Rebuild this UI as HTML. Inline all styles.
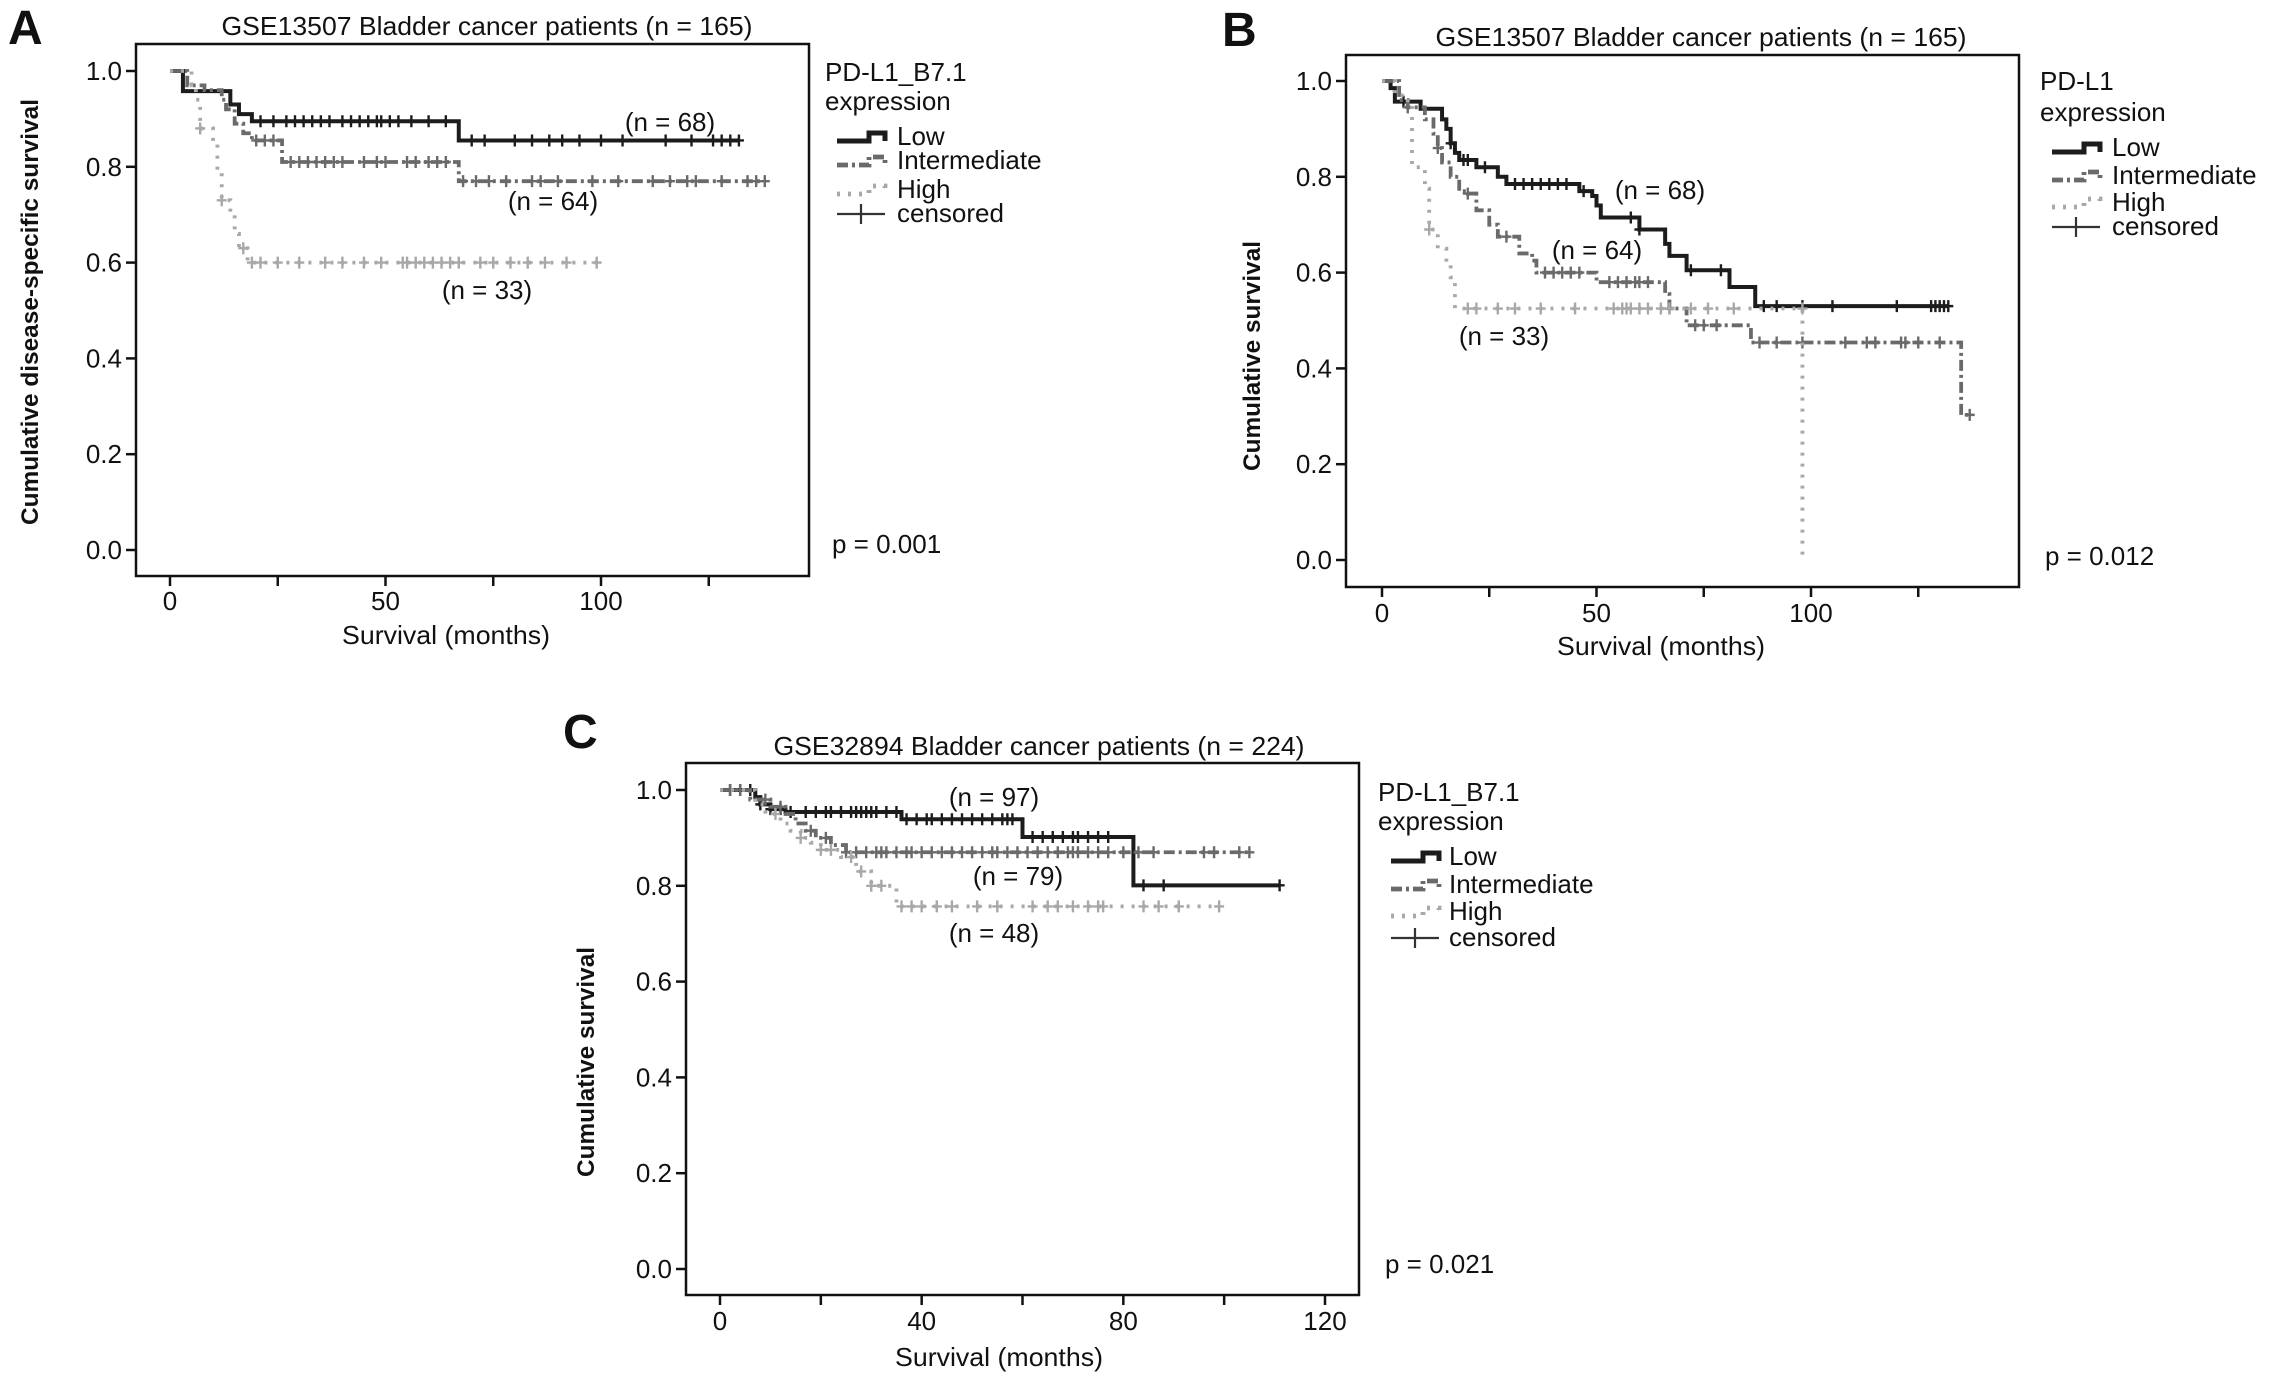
<!DOCTYPE html>
<html><head><meta charset="utf-8"><style>
html,body{margin:0;padding:0;background:#fff;}
svg{display:block;}
text{font-family:"Liberation Sans Narrow","Liberation Sans",sans-serif;fill:#111;}
.yt{font-family:"Liberation Sans",sans-serif;}
</style></head><body>
<svg id="fig" width="2272" height="1378" viewBox="0 0 2272 1378" xmlns="http://www.w3.org/2000/svg"></svg>
<script>
// ---- Panel A data ----
const aLowT=[3,14,16,19,67]; const aLowS=[0.958,0.93,0.91,0.895,0.855]; const aLowEnd=132;
const aLowC=[21,24,27,29,31,33,35,37,40,42,44,46,48,49,51,53,56,60,64,70,73,80,84,88,91,95,100,105,115,121,126,128,130,132];
const aIntT=[4,8,12,13,15,17,19,26,67]; const aIntS=[0.97,0.96,0.94,0.92,0.89,0.87,0.855,0.81,0.77]; const aIntEnd=138;
const aIntC=[20,22,24,28,30,32,34,36,38,40,45,48,50,55,57,60,62,64,68,71,74,78,84,86,90,98,104,112,116,120,122,128,134,136,138];
const aHighT=[5,6,7,10,11,12,14,15,16,18]; const aHighS=[0.97,0.94,0.88,0.85,0.79,0.73,0.70,0.66,0.63,0.60]; const aHighEnd=100;
const aHighC=[7,12,17,19,21,25,30,36,40,45,49,54,55,57,59,61,63,65,67,72,75,79,83,87,92,99];
// ---- Panel B data ----
const bLowT=[2,3,9,14,15,16,17,18,22,27,29,46,49,50,51,60,66,67,71,81,87]; const bLowS=[0.985,0.957,0.942,0.92,0.90,0.87,0.85,0.835,0.82,0.80,0.785,0.77,0.76,0.74,0.715,0.69,0.66,0.635,0.605,0.57,0.53]; const bLowEnd=132;
const bLowC=[5,16,19,20,24,31,33,35,37,39,41,43,47,58,60,72,79,89,92,98,105,120,128,129,130,131,132];
const bIntT=[4,6,10,12,13,14,16,18,20,22,25,27,32,35,36,50,66,67,71,86,135]; const bIntS=[0.96,0.945,0.92,0.89,0.86,0.83,0.80,0.77,0.765,0.73,0.70,0.675,0.64,0.625,0.60,0.58,0.555,0.525,0.49,0.454,0.303]; const bIntEnd=137;
const bIntC=[6,13,20,29,38,40,42,44,46,53,55,57,59,60,62,67,73,75,78,88,92,98,108,113,115,121,122,125,130,137];
const bHighT=[3,6,7,10,11,13,15,16,17,98]; const bHighS=[0.97,0.95,0.82,0.775,0.69,0.65,0.62,0.59,0.525,0]; const bHighEnd=98;
const bHighC=[11,20,22,27,31,37,45,54,56,57,58,60,62,65,67,72,76,82,98];
// ---- Panel C data ----
const cLowT=[7,8,10,13,36,60,82]; const cLowS=[0.985,0.97,0.96,0.954,0.939,0.902,0.801]; const cLowEnd=111;
const cLowC=[2,4,6,8,10,12,14,17,19,21,22,24,26,27,28,29,30,31,33,35,37,39,41,42,44,46,48,50,52,54,56,57,58,62,64,66,68,70,71,73,75,77,84,88,111];
const cIntT=[6,10,13,15,17,19,22,25]; const cIntS=[0.98,0.965,0.95,0.93,0.915,0.90,0.885,0.87]; const cIntEnd=105;
const cIntC=[2,4,9,12,18,21,25,27,29,31,32,33,35,37,38,40,42,44,46,48,50,52,54,55,57,59,61,63,65,67,69,70,71,73,75,77,80,83,86,96,98,103,105];
const cHighT=[7,9,12,14,16,18,20,24,27,30,35]; const cHighS=[0.97,0.95,0.93,0.915,0.90,0.89,0.875,0.86,0.83,0.80,0.757]; const cHighEnd=99;
const cHighC=[11,16,20,22,26,28,30,32,36,38,40,43,46,51,55,62,65,67,70,73,75,76,84,87,91,99];
const yTicks=[0,0.2,0.4,0.6,0.8,1.0];
const yTickLabels=["0.0","0.2","0.4","0.6","0.8","1.0"];

const NS="http://www.w3.org/2000/svg";
const fig=document.getElementById('fig');
function mk(tag,attrs,parent,txt){const e=document.createElementNS(NS,tag);for(const k in attrs)e.setAttribute(k,attrs[k]);if(txt!==undefined)e.textContent=txt;(parent||fig).appendChild(e);return e;}

const styles={
 low:{stroke:"#1c1c1c",w:4,dash:""},
 int:{stroke:"#6a6a6a",w:3.8,dash:"11,4,3,4"},
 high:{stroke:"#a8a8a8",w:3.8,dash:"3,8"}
};

function panel(P){
  const g=mk('g',{});
  
  
  const X=t=>P.x0+(t/P.xmaxT)*(P.xmaxPx-P.x0);
  const YY=s=>P.y0 - s*(P.y0-P.y1);
  const lab=mk('text',{x:P.letterX,y:P.letterY,'font-size':48,'font-weight':'bold','font-family':'Liberation Sans,sans-serif'},g,P.id);
  
  const tt=mk('text',{x:P.titleX,y:P.titleY,'font-size':26,'text-anchor':'middle',textLength:531,lengthAdjust:'spacingAndGlyphs'},g,P.title);
  
  const box=mk('rect',{x:P.bx,y:P.by,width:P.bw,height:P.bh,fill:'none',stroke:'#111','stroke-width':2.5},g);
  
  yTicks.forEach((v,i)=>{
    const y=YY(v);
    const tk=mk('line',{x1:P.bx-10,x2:P.bx,y1:y,y2:y,stroke:'#111','stroke-width':2.5},g);
    
    const tl=mk('text',{x:P.bx-14,y:y+9,'font-size':26,'text-anchor':'end'},g,yTickLabels[i]);
    
  });
  P.xticks.forEach(v=>{
    const x=X(v);
    const tk=mk('line',{x1:x,x2:x,y1:P.by+P.bh,y2:P.by+P.bh+10,stroke:'#111','stroke-width':2.5},g);
    
  });
  P.xlabels.forEach(v=>{
    const tl=mk('text',{x:X(v),y:P.xlabY,'font-size':26,'text-anchor':'middle'},g,String(v));
    
  });
  const xt=mk('text',{x:P.xtX,y:P.xtY,'font-size':26,'text-anchor':'middle',textLength:208,lengthAdjust:'spacingAndGlyphs'},g,'Survival (months)');
  
  const yt=mk('text',{x:0,y:0,'font-size':24,'font-weight':'bold','text-anchor':'middle',class:'yt',transform:`translate(${P.ytX},${P.ytY}) rotate(-90)`,textLength:P.ytLen,lengthAdjust:'spacingAndGlyphs'},g,P.yTitle);
  
  P.series.forEach(s=>{
    const st=styles[s.key];
    let d=`M${X(0)},${YY(1)}`;
    s.T.forEach((t,i)=>{d+=` H${X(t)} V${YY(s.S[i])}`;});
    d+=` H${X(s.end)}`;
    const p=mk('path',{d:d,fill:'none',stroke:st.stroke,'stroke-width':st.w,'stroke-dasharray':st.dash},g);
    
    s.C.forEach(t=>{
      let v=1;s.T.forEach((tt,i)=>{if(tt<=t)v=s.S[i];});
      if(s.key==='high'&&P.id==='B'&&t>=98)v=s.S[s.S.length-2];
      const x=X(t),y=YY(v);
      const c=mk('path',{d:`M${x},${y-6} V${y+6} M${x-5},${y} H${x+5}`,stroke:st.stroke,'stroke-width':2.4},g);
      
    });
  });
  P.nLabels.forEach(n=>{
    const t=mk('text',{x:n[0],y:n[1],'font-size':26,'text-anchor':'middle'},g,n[2]);
    
  });
  const L=P.leg;
  const lt1=mk('text',{x:L.x,y:L.y[0],'font-size':26},g,P.legTitle);
  
  const lt2=mk('text',{x:L.x,y:L.y[1],'font-size':26},g,'expression');
  
  const names=['Low','Intermediate','High','censored'];const keys=['low','int','high'];
  names.forEach((nm,i)=>{
    const yb=L.y[i+2];const cy=yb-8;const sx=L.sx;
    if(i<3){const st=styles[keys[i]];
      const p=mk('path',{d:`M${sx},${cy+4} H${sx+32} V${cy-4} H${sx+48} V${cy+4}`,fill:'none',stroke:st.stroke,'stroke-width':st.w+1,'stroke-dasharray':st.dash},g);
      
    } else {
      const p=mk('path',{d:`M${sx},${cy} H${sx+48} M${sx+24},${cy-10} V${cy+10}`,stroke:'#333','stroke-width':2.2},g);
      
    }
    const t=mk('text',{x:L.tx,y:yb,'font-size':26},g,nm);
    
  });
  const pv=mk('text',{x:P.pX,y:P.pY,'font-size':26},g,P.pText);
  
}

panel({id:'A',letterX:8,letterY:44,title:'GSE13507 Bladder cancer patients (n = 165)',titleX:487,titleY:35,
 bx:136,by:44,bw:673,bh:532,x0:170,xmaxT:100,xmaxPx:601,y0:550,y1:71,
 xticks:[0,25,50,75,100,125],xlabels:[0,50,100],xlabY:610,xtX:446,xtY:644,
 ytX:38,ytY:312,ytLen:426,yTitle:'Cumulative disease-specific survival',
 series:[{key:'low',T:aLowT,S:aLowS,end:aLowEnd,C:aLowC},{key:'int',T:aIntT,S:aIntS,end:aIntEnd,C:aIntC},{key:'high',T:aHighT,S:aHighS,end:aHighEnd,C:aHighC}],
 nLabels:[[670,131,'(n = 68)'],[553,210,'(n = 64)'],[487,299,'(n = 33)']],
 legTitle:'PD-L1_B7.1',leg:{x:825,sx:837,tx:897,y:[81,110,145,169,198,222]},pText:'p = 0.001',pX:832,pY:553});

panel({id:'B',letterX:1222,letterY:46,title:'GSE13507 Bladder cancer patients (n = 165)',titleX:1701,titleY:46,
 bx:1346,by:55,bw:673,bh:532,x0:1382,xmaxT:100,xmaxPx:1811,y0:560,y1:81,
 xticks:[0,25,50,75,100,125],xlabels:[0,50,100],xlabY:622,xtX:1661,xtY:655,
 ytX:1260,ytY:356,ytLen:230,yTitle:'Cumulative survival',
 series:[{key:'low',T:bLowT,S:bLowS,end:bLowEnd,C:bLowC},{key:'int',T:bIntT,S:bIntS,end:bIntEnd,C:bIntC},{key:'high',T:bHighT,S:bHighS,end:bHighEnd,C:bHighC}],
 nLabels:[[1660,199,'(n = 68)'],[1597,259,'(n = 64)'],[1504,345,'(n = 33)']],
 legTitle:'PD-L1',leg:{x:2040,sx:2052,tx:2112,y:[90,121,156,184,211,235]},pText:'p = 0.012',pX:2045,pY:565});

panel({id:'C',letterX:563,letterY:748,title:'GSE32894 Bladder cancer patients (n = 224)',titleX:1039,titleY:755,
 bx:686,by:763,bw:673,bh:532,x0:720,xmaxT:120,xmaxPx:1325,y0:1269,y1:790,
 xticks:[0,20,40,60,80,100,120],xlabels:[0,40,80,120],xlabY:1330,xtX:999,xtY:1366,
 ytX:594,ytY:1062,ytLen:230,yTitle:'Cumulative survival',
 series:[{key:'low',T:cLowT,S:cLowS,end:cLowEnd,C:cLowC},{key:'int',T:cIntT,S:cIntS,end:cIntEnd,C:cIntC},{key:'high',T:cHighT,S:cHighS,end:cHighEnd,C:cHighC}],
 nLabels:[[994,806,'(n = 97)'],[1018,885,'(n = 79)'],[994,942,'(n = 48)']],
 legTitle:'PD-L1_B7.1',leg:{x:1378,sx:1391,tx:1449,y:[801,830,865,893,920,946]},pText:'p = 0.021',pX:1385,pY:1273});
</script>
</body></html>
